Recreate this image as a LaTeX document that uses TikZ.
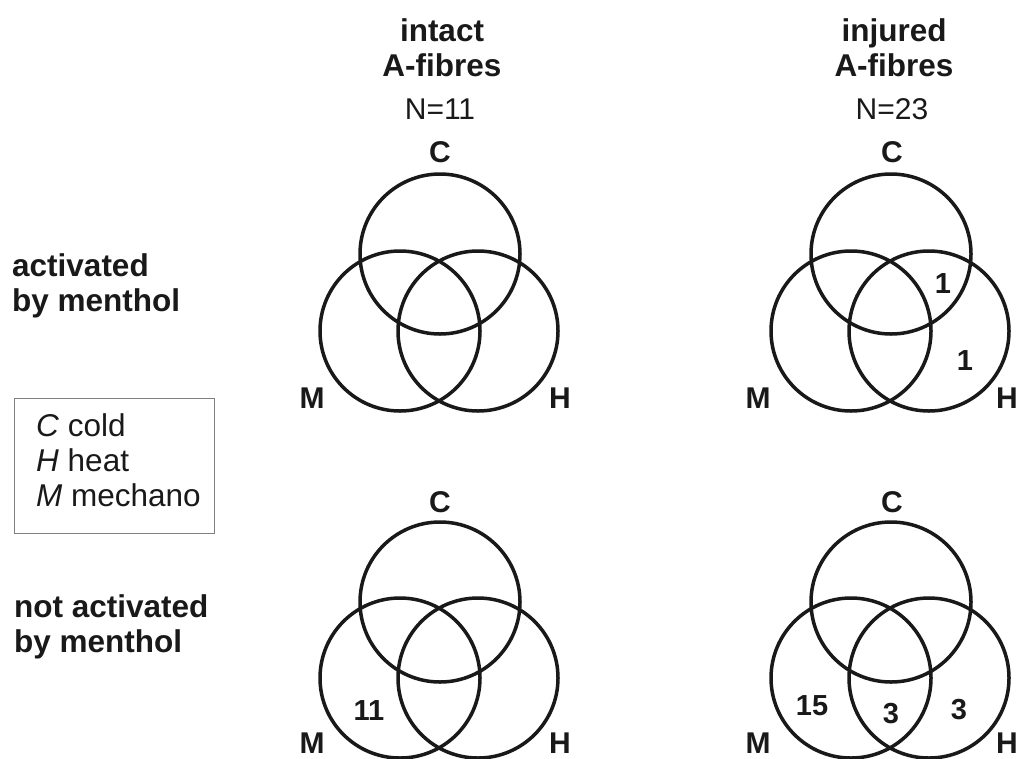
\documentclass[tikz,border=0pt]{standalone}
\usepackage{fontspec}
\setmainfont{Liberation Sans}
\begin{document}
\begin{tikzpicture}[x=1pt,y=-1pt,
  venn/.style={draw=black!90, circle, line width=3.5pt, minimum size=160pt, inner sep=0pt},
  bold/.style={font=\fontsize{31.5}{35}\selectfont\bfseries, inner sep=0pt, anchor=base, text=black!90},
  reg/.style={font=\fontsize{30}{35}\selectfont, inner sep=0pt, anchor=base, text=black!90},
  vlab/.style={font=\fontsize{30}{35}\selectfont\bfseries, inner sep=0pt, anchor=base, text=black!90},
  num/.style={font=\fontsize{29}{35}\selectfont\bfseries, inner sep=0pt, anchor=base, text=black!90},
  legbox/.style={draw=black!50, line width=1pt, inner sep=0pt, anchor=north west, minimum width=200pt, minimum height=135pt},
  legtext/.style={font=\fontsize{31.5}{35}\selectfont, inner sep=0pt, anchor=base west, text=black!90}]
\useasboundingbox (0,0) rectangle (1019,758);

% column titles
\node[bold] (t1a) at (442,41) {intact};
\node[bold] (t1b) at (442,76) {A-fibres};
\node[reg]  (t1n) at (440,119) {N=11};
\node[bold] (t2a) at (894,41) {injured};
\node[bold] (t2b) at (894,76) {A-fibres};
\node[reg]  (t2n) at (892,119) {N=23};

% row labels
\node[bold, anchor=base west] (r1a) at (12,276) {activated};
\node[bold, anchor=base west] (r1b) at (12,311) {by menthol};
\node[bold, anchor=base west] (r2a) at (14,617) {not activated};
\node[bold, anchor=base west] (r2b) at (14,652) {by menthol};

% legend
\node[legbox] (legend) at (14,398) {};
\node[legtext] (lg1) at (36,436) {\textit{C} cold};
\node[legtext] (lg2) at (36,471) {\textit{H} heat};
\node[legtext] (lg3) at (36,506) {\textit{M} mechano};

% top-left Venn
\node[venn] (tlC) at (440,254) {};
\node[venn] (tlM) at (400,331) {};
\node[venn] (tlH) at (478,331) {};
\node[vlab] (tlCl) at (440,162) {C};
\node[vlab] (tlMl) at (312,408) {M};
\node[vlab] (tlHl) at (560,408) {H};

% top-right Venn
\node[venn] (trC) at (891,254) {};
\node[venn] (trM) at (851,331) {};
\node[venn] (trH) at (929,331) {};
\node[vlab] (trCl) at (892,162) {C};
\node[vlab] (trMl) at (758,408) {M};
\node[vlab] (trHl) at (1007,408) {H};
\node[num] (trn1) at (943,293) {1};
\node[num] (trn2) at (965,370) {1};

% bottom-left Venn
\node[venn] (blC) at (440,602) {};
\node[venn] (blM) at (400,678) {};
\node[venn] (blH) at (478,678) {};
\node[vlab] (blCl) at (440,512) {C};
\node[vlab] (blMl) at (312,753) {M};
\node[vlab] (blHl) at (560,753) {H};
\node[num] (bln1) at (369,720) {11};

% bottom-right Venn
\node[venn] (brC) at (891,602) {};
\node[venn] (brM) at (851,678) {};
\node[venn] (brH) at (929,678) {};
\node[vlab] (brCl) at (892,512) {C};
\node[vlab] (brMl) at (758,753) {M};
\node[vlab] (brHl) at (1007,753) {H};
\node[num] (brn1) at (812,715) {15};
\node[num] (brn2) at (891,723) {3};
\node[num] (brn3) at (959,719) {3};
\end{tikzpicture}
\end{document}
